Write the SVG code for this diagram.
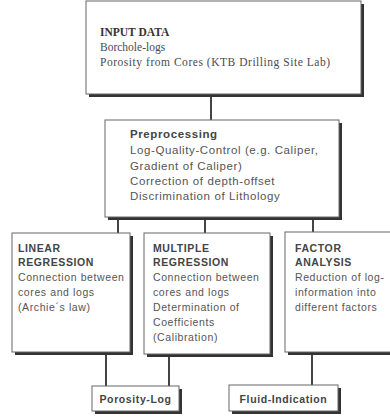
<svg xmlns="http://www.w3.org/2000/svg" width="390" height="417" viewBox="0 0 390 417">
<style>
.sh{fill:#333}
.bx{fill:#fff;stroke:#666;stroke-width:1}
.serif{font-family:"Liberation Serif","Times New Roman",serif;font-size:11.5px;fill:#4a4a55}
.serif.b{font-weight:bold;fill:#333}
.t{font-family:"Liberation Sans",Arial,sans-serif;font-size:10.5px;letter-spacing:0.6px;fill:#555}
.t.p{font-size:11.5px}
.h{font-weight:bold;fill:#444}
.c{stroke:#444;stroke-width:2;fill:none}
</style>
<rect width="390" height="417" fill="#fff"/>
<g id="connectors">
<line class="c" x1="211" y1="96" x2="211" y2="120"/>
<line class="c" x1="118" y1="219" x2="118" y2="233"/>
<line class="c" x1="205" y1="219" x2="205" y2="233"/>
<line class="c" x1="313" y1="219" x2="313" y2="232"/>
<line class="c" x1="106" y1="354" x2="106" y2="386"/>
<line class="c" x1="169" y1="356" x2="169" y2="386"/>
<line class="c" x1="312" y1="354" x2="312" y2="385"/>
</g>
<g id="input">
<rect class="sh" x="89" y="4" width="275" height="93"/>
<rect class="bx" x="86" y="1" width="275" height="93"/>
<text class="serif b" x="100" y="36">INPUT DATA</text>
<text class="serif" x="100" y="51">Borchole-logs</text>
<text class="serif" x="100" y="66" textLength="230">Porosity from Cores (KTB Drilling Site Lab)</text>
</g>
<g id="preprocessing">
<rect class="sh" x="108" y="123" width="234" height="97"/>
<rect class="bx" x="105" y="120" width="234" height="97"/>
<text class="t p h" x="130" y="138">Preprocessing</text>
<text class="t p" x="130" y="154">Log-Quality-Control (e.g. Caliper,</text>
<text class="t p" x="130" y="170">Gradient of Caliper)</text>
<text class="t p" x="130" y="185">Correction of depth-offset</text>
<text class="t p" x="130" y="200">Discrimination of Lithology</text>
</g>
<g id="linear">
<rect class="sh" x="15" y="236" width="118" height="119"/>
<rect class="bx" x="12" y="233" width="118" height="119"/>
<text class="t h" x="18" y="252">LINEAR</text>
<text class="t h" x="18" y="266">REGRESSION</text>
<text class="t" x="18" y="281">Connection between</text>
<text class="t" x="18" y="296">cores and logs</text>
<text class="t" x="18" y="311">(Archie´s law)</text>
</g>
<g id="multiple">
<rect class="sh" x="147" y="236" width="126" height="121"/>
<rect class="bx" x="144" y="233" width="126" height="121"/>
<text class="t h" x="153" y="252">MULTIPLE</text>
<text class="t h" x="153" y="266">REGRESSION</text>
<text class="t" x="153" y="281">Connection between</text>
<text class="t" x="153" y="296">cores and logs</text>
<text class="t" x="153" y="311">Determination of</text>
<text class="t" x="153" y="326">Coefficients</text>
<text class="t" x="153" y="341">(Calibration)</text>
</g>
<g id="factor">
<rect class="sh" x="288" y="235" width="110" height="120"/>
<rect class="bx" x="285" y="232" width="110" height="120"/>
<text class="t h" x="295" y="252">FACTOR</text>
<text class="t h" x="295" y="266">ANALYSIS</text>
<text class="t" x="295" y="281">Reduction of log-</text>
<text class="t" x="295" y="296">information into</text>
<text class="t" x="295" y="311">different factors</text>
</g>
<g id="porosity-log">
<rect class="sh" x="95" y="389" width="87" height="25"/>
<rect class="bx" x="92" y="386" width="87" height="25"/>
<text class="t h" x="135.5" y="403" text-anchor="middle">Porosity-Log</text>
</g>
<g id="fluid-indication">
<rect class="sh" x="232" y="388" width="109" height="26"/>
<rect class="bx" x="229" y="385" width="109" height="26"/>
<text class="t h" x="283.5" y="403" text-anchor="middle">Fluid-Indication</text>
</g>
</svg>
